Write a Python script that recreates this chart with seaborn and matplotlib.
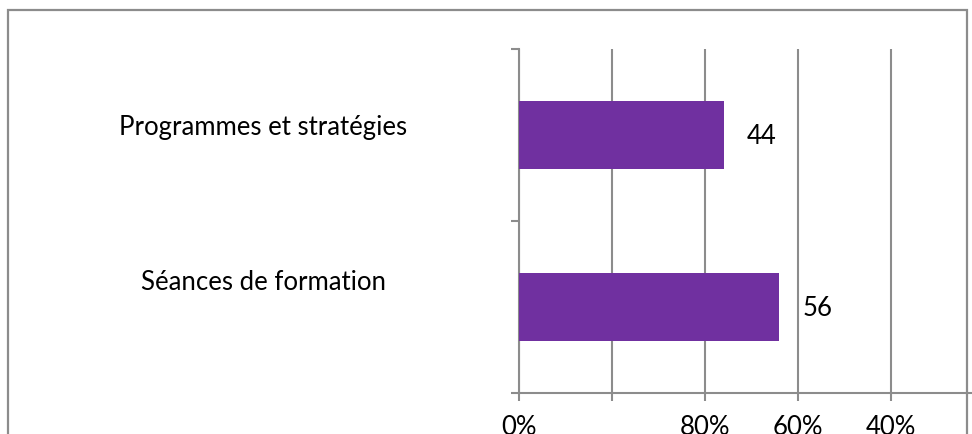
import matplotlib
matplotlib.use("Agg")
import matplotlib.pyplot as plt
import matplotlib.transforms as mtransforms
from matplotlib.patches import Rectangle
import seaborn as sns
import pandas as pd

# Data
categories = ["Programmes et stratégies", "Séances de formation"]
values = [44, 56]
x_ticks = [0, 20, 40, 60, 80]
x_tick_labels = ["0%", "", "80%", "60%", "40%"]

sns.set_theme(style="white")
plt.rcParams["font.family"] = ["Lato", "DejaVu Sans"]

BAR = "#7030A0"
GRID = "#8c8c8c"
FS = 18.5

df = pd.DataFrame({"cat": categories, "val": values})

W, H = 972, 435
fig = plt.figure(figsize=(W / 100, H / 100), dpi=100)
ax = fig.add_axes([519 / W, (H - 394) / H, (984 - 519) / W, (394 - 50) / H])

sns.barplot(data=df, x="val", y="cat", color=BAR, width=0.4, saturation=1,
            linewidth=0, ax=ax, zorder=3)

ax.set_xlim(0, 100)
ax.set_ylim(1.5, -0.5)
ax.set_xticks(x_ticks)
ax.set_xticklabels(x_tick_labels, fontsize=FS, color="black")
ax.set_yticks([-0.5, 0.5, 1.5])
ax.set_yticklabels([])
ax.set_xlabel("")
ax.set_ylabel("")

ax.grid(axis="x", color=GRID, linewidth=1.5, zorder=0)
ax.grid(axis="y", visible=False)
for side in ["top", "right"]:
    ax.spines[side].set_visible(False)
for side in ["left", "bottom"]:
    ax.spines[side].set_color(GRID)
    ax.spines[side].set_linewidth(1.5)
ax.tick_params(axis="both", which="both", direction="out", length=6,
               width=1.5, color=GRID, bottom=True, left=True)
ax.tick_params(axis="x", pad=9)

# Value labels to the right of each bar
for i, v in enumerate(values):
    ax.annotate(str(v), xy=(v, i), xytext=(17, 0), textcoords="offset points",
                ha="left", va="center", fontsize=FS, color="black")

# Category labels to the left of the plot area
label_trans = mtransforms.blended_transform_factory(fig.transFigure, ax.transData)
label_y = [-0.05, 0.85]
for lab, y in zip(categories, label_y):
    ax.text(263 / W, y, lab, transform=label_trans, ha="center", va="center",
            fontsize=FS, color="black", clip_on=False)

# Chart frame
fig.add_artist(Rectangle((8 / W, -0.1), (967 - 8) / W, (H - 11) / H + 0.1,
                         transform=fig.transFigure, fill=False,
                         edgecolor=GRID, linewidth=1.6, zorder=10))

fig.savefig("out.png", dpi=100)
